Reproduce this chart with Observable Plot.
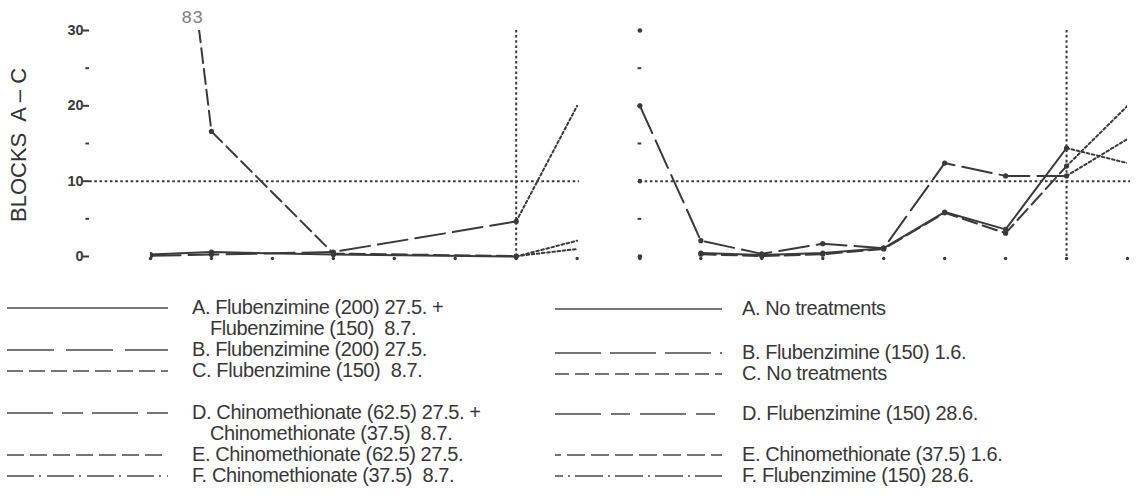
<!DOCTYPE html>
<html><head><meta charset="utf-8">
<script src="https://cdn.jsdelivr.net/npm/d3@7"></script>
<script src="https://cdn.jsdelivr.net/npm/@observablehq/plot@0.6"></script>
<style>
html,body{margin:0;padding:0;background:#fff;}
body{width:1142px;height:501px;position:relative;overflow:hidden;font-family:"Liberation Sans",Arial,sans-serif;}
#chart{position:absolute;left:0;top:0;}
.lgtext{position:absolute;color:#383838;font-size:20px;letter-spacing:-0.4px;line-height:21px;white-space:nowrap;}
.lgsw{position:absolute;}
</style></head><body>
<div id="chart"></div>
<div id="legend"></div>
<script>
// ---- data ----
const xTicksLeft = [0,1,2,3,4,5,6,7];
const xTicksRight = [0,1,2,3,4,5,6,7,8];
const yMajor = [0,10,20,30];
const yMinor = [5,15,25];
const threshold = 10;
const yLabel = "BLOCKS  A – C";

const leftIdx = [0,1,3,6];
const leftA = [0.25,0.6,0.25,0];
const leftB = [0.1,0.25,0.6,4.65];
const leftC = [83,16.6,0.4,0.05];
const leftNextIdx = 7;
const leftNext = [2.1,20,1.0];      // A, B, C projections
const leftMarkIdx = 6;

const rightIdx = [0,1,2,3,4,5,6,7];
const rightA = [null,0.45,0.2,0.45,1.1,5.9,3.6,14.4];
const rightB = [20,2.1,0.35,1.7,1.1,12.4,10.7,10.7];
const rightC = [null,0.3,0.05,0.3,1.0,5.8,3.1,12.0];
const rightNextIdx = 8;
const rightNext = [12.4,15.6,20];   // A, B, C projections
const rightMarkIdx = 7;

const seriesKeys = ["A","B","C"];

const legendLeftLabels = [
  ["A. Flubenzimine (200) 27.5. +","Flubenzimine (150)  8.7."],
  ["B. Flubenzimine (200) 27.5."],
  ["C. Flubenzimine (150)  8.7."],
  ["D. Chinomethionate (62.5) 27.5. +","Chinomethionate (37.5)  8.7."],
  ["E. Chinomethionate (62.5) 27.5."],
  ["F. Chinomethionate (37.5)  8.7."]
];
const legendRightLabels = [
  ["A. No treatments"],
  ["B. Flubenzimine (150) 1.6."],
  ["C. No treatments"],
  ["D. Flubenzimine (150) 28.6."],
  ["E. Chinomethionate (37.5) 1.6."],
  ["F. Flubenzimine (150) 28.6."]
];

// ---- layout / style ----
const ink = "#3a3a3a";
const rightOffset = 8.03;
const yMax = 30;
const dashOf = {A: null, B: "30,8", C: "15,6"};
const dotted = "2.6,2.6";

const rows = [];
const proj = [];
function addPanel(panel, idx, series, off, nextIdx, nexts) {
  series.forEach((vals, s) => {
    const key = seriesKeys[s];
    const pts = idx.map((i,k)=>({panel, key, x: off+i, y: vals[k]})).filter(d=>d.y!=null);
    rows.push(...pts);
    const last = pts[pts.length-1];
    proj.push({panel, key, x: last.x, y: last.y}, {panel, key, x: off+nextIdx, y: nexts[s]});
  });
}
addPanel("L", leftIdx, [leftA,leftB,leftC], 0, leftNextIdx, leftNext);
addPanel("R", rightIdx, [rightA,rightB,rightC], rightOffset, rightNextIdx, rightNext);

// label of clipped value
const clipped = [];
for (const k of seriesKeys) {
  const pts = rows.filter(d=>d.key===k && d.panel==="L");
  for (let i=0;i<pts.length-1;i++){
    const a=pts[i], b=pts[i+1];
    if (a.y>yMax && b.y<=yMax) clipped.push({x: a.x+(b.x-a.x)*(a.y-yMax)/(a.y-b.y), y: yMax, t: String(a.y)});
  }
}

const marks = [];
// reference lines
marks.push(Plot.ruleY([{y1:threshold, a:-1, b:leftNextIdx+0.04},{y1:threshold, a:rightOffset, b:rightOffset+rightNextIdx+0.05}],
  {y:"y1", x1:"a", x2:"b", stroke:ink, strokeWidth:2, strokeDasharray:dotted}));
marks.push(Plot.ruleX([leftMarkIdx, rightOffset+rightMarkIdx], {x:d=>d, y1:0, y2:yMax, stroke:ink, strokeWidth:2, strokeDasharray:dotted}));
// left y axis
marks.push(Plot.text(yMajor, {x:-1, y:d=>d, text:d=>String(d), textAnchor:"end", dx:-6, fontSize:14.5, fontWeight:"bold", fill:ink, fontFamily:"Liberation Sans", letterSpacing:"-1.2px"}));
marks.push(Plot.ruleY(yMajor, {y:d=>d, x1:-1.1, x2:-1.0, stroke:ink, strokeWidth:2}));
marks.push(Plot.ruleY(yMinor, {y:d=>d, x1:-1.06, x2:-1.0, stroke:ink, strokeWidth:2}));
// right y axis
marks.push(Plot.dot(yMajor, {x:rightOffset, y:d=>d, r:2.3, fill:ink}));
marks.push(Plot.ruleY(yMinor, {y:d=>d, x1:rightOffset-0.03, x2:rightOffset+0.03, stroke:ink, strokeWidth:2}));
// x tick dots
marks.push(Plot.dot(xTicksLeft, {x:d=>d, y:0, dy:2, r:1.7, fill:ink}));
marks.push(Plot.dot(xTicksRight, {x:d=>rightOffset+d, y:0, dy:2, r:1.7, fill:ink}));
// projections
marks.push(Plot.line(proj, {x:"x", y:"y", z:d=>d.panel+d.key, stroke:ink, strokeWidth:2, strokeDasharray:dotted, clip:true}));
// series lines
for (const k of seriesKeys) {
  marks.push(Plot.line(rows.filter(d=>d.key===k), {x:"x", y:"y", z:"panel", stroke:ink, strokeWidth:2, strokeDasharray:dashOf[k], clip:true}));
}
marks.push(Plot.dot(rows, {x:"x", y:"y", r:2.6, fill:ink, clip:true}));
// clipped value annotation
marks.push(Plot.text(clipped, {x:"x", y:"y", text:"t", dy:-13, dx:-7, fontSize:18, fill:"#808080", fontFamily:"Liberation Mono", letterSpacing:"3px"}));
// y label
marks.push(Plot.text([yLabel], {frameAnchor:"left", textAnchor:"middle", rotate:-90, dx:-132, fontSize:22, fontWeight:500, fill:"#333", fontFamily:"Liberation Sans", letterSpacing:"1.5px"}));

const chart = Plot.plot({
  width: 1142, height: 270,
  marginLeft: 150, marginRight: 15, marginTop: 30, marginBottom: 11,
  insetBottom: 3,
  x: {domain:[0, rightOffset+8], axis:null},
  y: {domain:[0, yMax], axis:null},
  style: {background:"transparent", overflow:"visible"},
  marks
});
document.getElementById("chart").appendChild(chart);

// ---- legend ----
const legendDashLeft = [null, "47,12", "16,6", "46,9,21,9", "17,6", "27,5,2,6"];
const legendDashRight = [null, "46,9,46,9,46,9,2,200", "14,6", "46,10,19,10", "18,6", "28,5,2,5"];
const legendOffsetRight = [0,0,0,0,12,20];
const rowYLeft = [308,350,371,413,455,476];
const rowYRight = [309,353,374,414,455,476];
const lg = document.getElementById("legend");
function addLegend(labels, dashes, offs, ys, swX, swW, txX) {
  labels.forEach((lines, i) => {
    const cy = ys[i];
    const ns = "http://www.w3.org/2000/svg";
    const sv = document.createElementNS(ns, "svg");
    sv.setAttribute("width", swW); sv.setAttribute("height", 6);
    sv.setAttribute("class","lgsw");
    sv.style.left = swX+"px"; sv.style.top = (cy-3)+"px";
    const ln = document.createElementNS(ns, "line");
    ln.setAttribute("x1",0); ln.setAttribute("x2",swW); ln.setAttribute("y1",3); ln.setAttribute("y2",3);
    ln.setAttribute("stroke","#4a4a4a"); ln.setAttribute("stroke-width","1.6");
    if (dashes[i]) ln.setAttribute("stroke-dasharray", dashes[i]);
    if (offs && offs[i]) ln.setAttribute("stroke-dashoffset", offs[i]);
    sv.appendChild(ln);
    lg.appendChild(sv);
    lines.forEach((t, j) => {
      const d = document.createElement("div");
      d.className = "lgtext";
      d.textContent = t;
      d.style.whiteSpace = "pre";
      d.style.left = (txX + (j>0?18:0))+"px";
      d.style.top = (cy - 11 + j*21)+"px";
      lg.appendChild(d);
    });
  });
}
addLegend(legendLeftLabels, legendDashLeft, null, rowYLeft, 7, 161, 192);
addLegend(legendRightLabels, legendDashRight, legendOffsetRight, rowYRight, 555, 167, 742);
</script>
</body></html>
